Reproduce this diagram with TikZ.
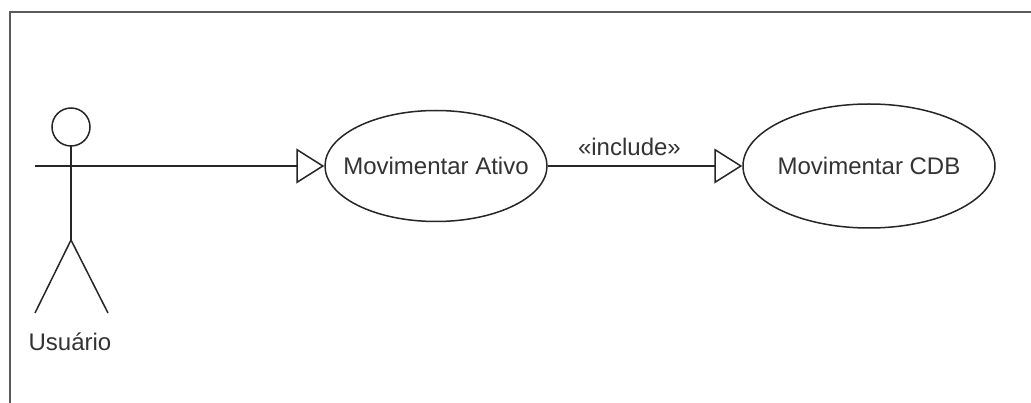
\documentclass[tikz,border=0pt]{standalone}
\usepackage{fontspec}
\setmainfont{Liberation Sans}
\usetikzlibrary{shapes.geometric,arrows.meta}
\definecolor{ink}{HTML}{262626}
\definecolor{txt}{HTML}{333333}
\definecolor{frame}{HTML}{5A5A5A}
\begin{document}
\begin{tikzpicture}[x=1pt,y=-1pt,
  lbl/.style={font=\fontsize{24}{28}\selectfont, text=txt, inner sep=0pt},
  usecase/.style={ellipse, draw=ink, line width=1.5pt, lbl, inner xsep=-60pt, inner ysep=-8pt},
  stick/.style={draw=ink, line width=1.5pt},
  generalize/.style={stick, -{Triangle[open,length=28pt,width=35pt,line width=1.5pt]}}]
  % canvas and frame
  \useasboundingbox (0,0) rectangle (1031,403);
  \fill[white] (0,0) rectangle (1031,403);
  \draw[frame, line width=2.5pt] (10,403) -- (10,12) -- (1031,12);

  % actor
  \coordinate (actor) at (71,166);
  \coordinate (hip) at (71,240);
  \draw[stick] (71,127) circle[radius=19pt];
  \draw[stick] (71,146) -- (hip);
  \draw[stick] (35,166) -- (108,166);
  \draw[stick] (35,313) -- (hip) -- (108,313);
  \node[lbl] (user) at (70,342) {Usuário};

  % use cases
  \node[usecase, minimum width=222pt, minimum height=111pt] (uc1) at (436,166) {Movimentar Ativo};
  \node[usecase, minimum width=252pt, minimum height=124pt] (uc2) at (869,166) {Movimentar CDB};

  % connectors
  \draw[generalize] (actor) -- (uc1.west);
  \draw[generalize] (uc1.east) -- node[lbl, above=10pt, pos=0.42] (inc) {«include»} (uc2.west);
\end{tikzpicture}
\end{document}
